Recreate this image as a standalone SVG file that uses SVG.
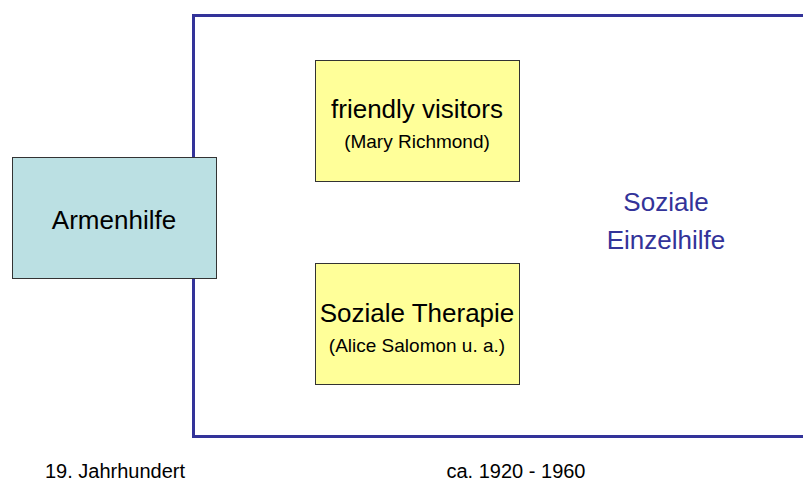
<svg xmlns="http://www.w3.org/2000/svg" width="803" height="485" viewBox="0 0 803 485">
<style>
text{font-family:"Liberation Sans",Arial,sans-serif;fill:#000;text-anchor:middle}
.big{font-size:26px}
.small{font-size:19px}
.foot{font-size:20px}
.blue{fill:#333399}
.yel{fill:#FFFF99;stroke:#333;stroke-width:1}
</style>
<rect width="803" height="485" fill="#fff"/>
<g id="frame">
<rect x="193.5" y="15.5" width="620" height="421" fill="none" stroke="#333399" stroke-width="3"/>
</g>
<g id="armenhilfe">
<rect x="12.5" y="157.5" width="204" height="121" fill="#BBE0E3" stroke="#333" stroke-width="1"/>
<text class="big" x="114" y="229">Armenhilfe</text>
</g>
<g id="friendly">
<rect class="yel" x="315.5" y="60.5" width="204" height="121"/>
<text class="big" x="417" y="118">friendly visitors</text>
<text class="small" x="417" y="148">(Mary Richmond)</text>
</g>
<g id="therapie">
<rect class="yel" x="315.5" y="263.5" width="204" height="121"/>
<text class="big" x="417" y="322">Soziale Therapie</text>
<text class="small" x="417" y="352">(Alice Salomon u. a.)</text>
</g>
<g id="einzelhilfe">
<text class="big blue" x="666" y="211">Soziale</text>
<text class="big blue" x="666" y="249">Einzelhilfe</text>
</g>
<g id="labels">
<text class="foot" x="115" y="478">19. Jahrhundert</text>
<text class="foot" x="516" y="478">ca. 1920 - 1960</text>
</g>
<g id="connectors"></g>
</svg>
